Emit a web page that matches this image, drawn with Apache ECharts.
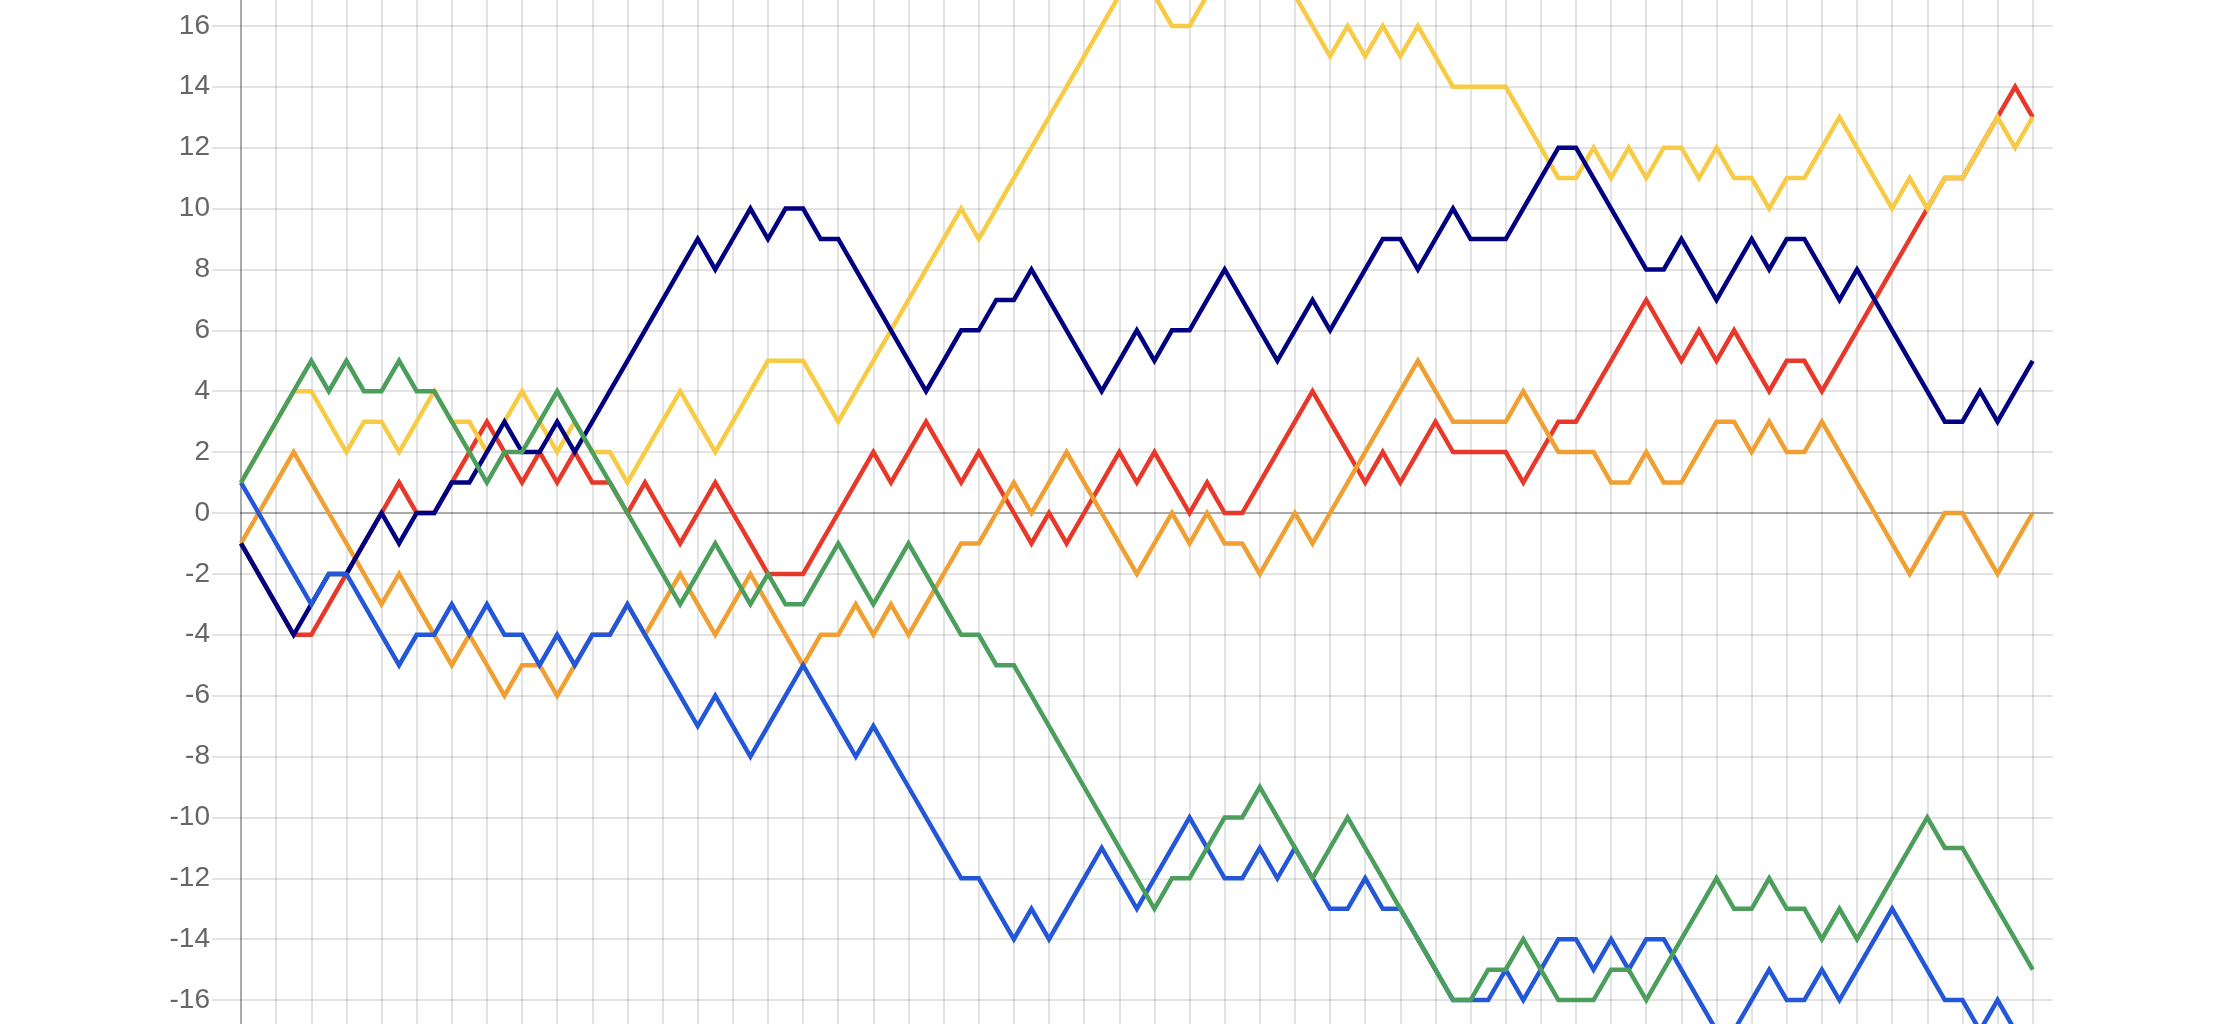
<!DOCTYPE html>
<html><head><meta charset="utf-8">
<script src="https://cdn.jsdelivr.net/npm/echarts@6/dist/echarts.min.js"></script>
<style>html,body{margin:0;padding:0;background:#fff;overflow:hidden;width:2217px;height:1024px}
#c{position:absolute;left:0;top:-49px;width:2217px;height:1124px}</style>
</head><body><div id="c"></div>
<script>
// y-axis tick labels every 2 units
const yTickMin = -18, yTickMax = 18, yTickStep = 2;

const red = [-1,-2,-3,-4,-4,-3,-2,-1,0,1,0,0,1,2,3,2,1,2,1,2,1,1,0,1,0,-1,0,1,0,-1,
  -2,-2,-2,-1,0,1,2,1,2,3,2,1,2,1,0,-1,0,-1,0,1,2,1,2,1,0,1,0,0,1,2,
  3,4,3,2,1,2,1,2,3,2,2,2,2,1,2,3,3,4,5,6,7,6,5,6,5,6,5,4,5,5,
  4,5,6,7,8,9,10,11,11,12,13,14,13];
const orange = [-1,0,1,2,1,0,-1,-2,-3,-2,-3,-4,-5,-4,-5,-6,-5,-5,-6,-5,-4,-4,-3,-4,-3,-2,-3,-4,-3,-2,
  -3,-4,-5,-4,-4,-3,-4,-3,-4,-3,-2,-1,-1,0,1,0,1,2,1,0,-1,-2,-1,0,-1,0,-1,-1,-2,-1,
  0,-1,0,1,2,3,4,5,4,3,3,3,3,4,3,2,2,2,1,1,2,1,1,2,3,3,2,3,2,2,
  3,2,1,0,-1,-2,-1,0,0,-1,-2,-1,0];
const yellow = [1,2,3,4,4,3,2,3,3,2,3,4,3,3,2,3,4,3,2,3,2,2,1,2,3,4,3,2,3,4,
  5,5,5,4,3,4,5,6,7,8,9,10,9,10,11,12,13,14,15,16,17,18,17,16,16,17,18,18,19,18,
  17,16,15,16,15,16,15,16,15,14,14,14,14,13,12,11,11,12,11,12,11,12,12,11,12,11,11,10,11,11,
  12,13,12,11,10,11,10,11,11,12,13,12,13];
const navy = [-1,-2,-3,-4,-3,-2,-2,-1,0,-1,0,0,1,1,2,3,2,2,3,2,3,4,5,6,7,8,9,8,9,10,
  9,10,10,9,9,8,7,6,5,4,5,6,6,7,7,8,7,6,5,4,5,6,5,6,6,7,8,7,6,5,
  6,7,6,7,8,9,9,8,9,10,9,9,9,10,11,12,12,11,10,9,8,8,9,8,7,8,9,8,9,9,
  8,7,8,7,6,5,4,3,3,4,3,4,5];
const blue = [1,0,-1,-2,-3,-2,-2,-3,-4,-5,-4,-4,-3,-4,-3,-4,-4,-5,-4,-5,-4,-4,-3,-4,-5,-6,-7,-6,-7,-8,
  -7,-6,-5,-6,-7,-8,-7,-8,-9,-10,-11,-12,-12,-13,-14,-13,-14,-13,-12,-11,-12,-13,-12,-11,-10,-11,-12,-12,-11,-12,
  -11,-12,-13,-13,-12,-13,-13,-14,-15,-16,-16,-16,-15,-16,-15,-14,-14,-15,-14,-15,-14,-14,-15,-16,-17,-17,-16,-15,-16,-16,
  -15,-16,-15,-14,-13,-14,-15,-16,-16,-17,-16,-17,-18];
const green = [1,2,3,4,5,4,5,4,4,5,4,4,3,2,1,2,2,3,4,3,2,1,0,-1,-2,-3,-2,-1,-2,-3,
  -2,-3,-3,-2,-1,-2,-3,-2,-1,-2,-3,-4,-4,-5,-5,-6,-7,-8,-9,-10,-11,-12,-13,-12,-12,-11,-10,-10,-9,-10,
  -11,-12,-11,-10,-11,-12,-13,-14,-15,-16,-16,-15,-15,-14,-15,-16,-16,-16,-15,-15,-16,-15,-14,-13,-12,-13,-13,-12,-13,-13,
  -14,-13,-14,-13,-12,-11,-10,-11,-11,-12,-13,-14,-15];

const xs = red.map((_, i) => i);
const pts = arr => xs.map((x, i) => [x, arr[i]]);

const chart = echarts.init(document.getElementById('c'), null, {renderer: 'canvas'});
const mk = (name, arr, color) => ({
  name, type: 'line', data: pts(arr), symbol: 'none', clip: true,
  lineStyle: {color, width: 4.5, join: 'miter', cap: 'butt'}, itemStyle: {color}
});
chart.setOption({
  animation: false,
  backgroundColor: '#fff',
  grid: {left: 241, top: 0.4, width: 1811.7, height: 1123.3, containLabel: false},
  xAxis: {
    type: 'value', min: 0, max: 103.14, interval: 2,
    axisLabel: {show: false}, axisTick: {show: false},
    axisLine: {show: true, onZero: true, lineStyle: {color: 'rgba(0,0,0,0.25)', width: 2}},
    splitLine: {show: true, showMaxLine: false, lineStyle: {color: 'rgba(0,0,0,0.11)', width: 2}}
  },
  yAxis: {
    type: 'value', min: yTickMin, max: yTickMax, interval: yTickStep,
    axisLine: {show: true, lineStyle: {color: 'rgba(0,0,0,0.25)', width: 2}},
    axisTick: {show: true, length: 29, lineStyle: {color: 'rgba(0,0,0,0.11)', width: 2}},
    axisLabel: {margin: 31, color: '#666', fontSize: 28, fontFamily: '"Helvetica Neue", Helvetica, Arial, "Liberation Sans", sans-serif'},
    splitLine: {show: true, lineStyle: {color: 'rgba(0,0,0,0.11)', width: 2}}
  },
  series: [
    mk('red', red, '#e8382a'),
    mk('orange', orange, '#f0a033'),
    mk('yellow', yellow, '#f7cb46'),
    mk('navy', navy, '#000080'),
    mk('blue', blue, '#2457d8'),
    mk('green', green, '#4b9e5c')
  ]
});
</script></body></html>
